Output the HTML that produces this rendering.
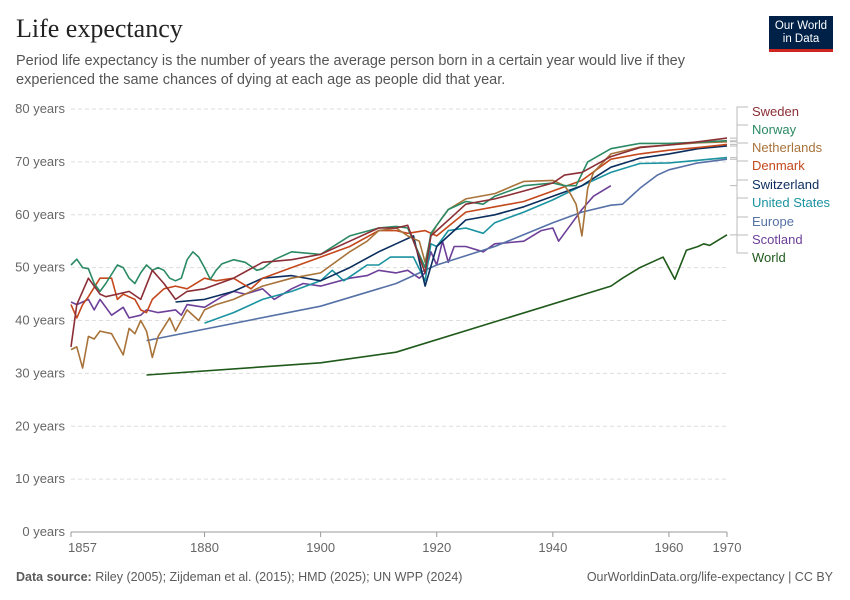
<!DOCTYPE html>
<html><head><meta charset="utf-8"><style>
body{margin:0;background:#fff;font-family:"Liberation Sans",sans-serif;}
#wrap{position:relative;width:850px;height:600px;overflow:hidden}
h1{position:absolute;left:16px;top:14px;margin:0;font-family:"Liberation Serif",serif;font-weight:400;font-size:26px;color:#222}
.sub{position:absolute;left:16px;top:52px;width:720px;font-size:14.5px;line-height:19px;color:#555}
.logo{position:absolute;left:769px;top:16px;width:64px;height:36px;background:#002147;border-bottom:3px solid #ce261e;color:#fff;font-size:11.5px;line-height:13px;text-align:center;padding-top:4px;box-sizing:border-box}
.foot{position:absolute;top:570px;font-size:12.5px;color:#5b5b5b}
</style></head><body>
<div id="wrap">
<h1>Life expectancy</h1>
<div class="sub">Period life expectancy is the number of years the average person born in a certain year would live if they experienced the same chances of dying at each age as people did that year.</div>
<div class="logo">Our World<br>in Data</div>
<svg id="chart" width="850" height="600" style="position:absolute;left:0;top:0"></svg>
<div class="foot" style="left:16px"><b>Data source:</b> Riley (2005); Zijdeman et al. (2015); HMD (2025); UN WPP (2024)</div>
<div class="foot" style="right:17px">OurWorldinData.org/life-expectancy | CC BY</div>
</div>
<script>
const yTicks=[0,10,20,30,40,50,60,70,80];
const xTicks=[1857,1880,1900,1920,1940,1960,1970];
const seriesNames=["Sweden","Norway","Netherlands","Denmark","Switzerland","United States","Europe","Scotland","World"];
const seriesColors=["#8b2e36","#2b8a64","#a8733a","#c4481c","#0b2e5e","#1a93a0","#5671a6","#6c3f98","#1f5a1a"];
const labelY=[111,129,147,165,184,202,221,239,257];
const swedenYears=[1857,1858,1860,1862,1863,1865,1867,1869,1871,1873,1875,1877,1880,1885,1890,1895,1900,1905,1910,1913,1915,1918,1919,1920,1923,1925,1930,1935,1940,1942,1945,1950,1955,1960,1965,1970];
const swedenVals=[35,43,48,45,44.5,45,45.5,44,49.5,47,44,45.5,46,48,51,51.5,52.5,55,57.5,57.5,58,49,56,57,60,62,63,64.5,66,67.5,68,71,72.7,73.2,73.8,74.5];
const norwayYears=[1857,1858,1859,1860,1861,1862,1863,1865,1866,1867,1868,1869,1870,1871,1872,1873,1874,1875,1876,1877,1878,1879,1880,1881,1882,1883,1885,1887,1889,1890,1892,1895,1900,1905,1910,1913,1915,1918,1919,1920,1922,1925,1928,1930,1935,1940,1942,1944,1946,1950,1955,1960,1965,1970];
const norwayVals=[50.5,51.6,50,49.8,47,45.5,47,50.5,50,48,47,49,50.5,49.5,50,49.5,48,47.5,48,51.5,53,52,50,47.8,49.5,50.7,51.5,51,49.5,49.8,51.5,53,52.5,56,57.5,57.8,57.5,50,56.5,58,61,62.5,62,63.5,65.5,66,65.5,65.5,70,72.5,73.5,73.5,73.7,74];
const netherlandsYears=[1857,1858,1859,1860,1861,1862,1864,1866,1867,1868,1869,1870,1871,1872,1874,1875,1877,1879,1880,1882,1885,1887,1890,1895,1900,1905,1908,1910,1913,1915,1917,1918,1919,1920,1922,1925,1930,1935,1940,1942,1943,1944,1945,1946,1947,1950,1955,1960,1965,1970];
const netherlandsVals=[34.5,35,31,37,36.5,38,37.5,33.5,38.5,37.5,40,38,33,37,40.5,38,42,40,42,43,44,45,46.5,48,49,53,55,57,57.5,56,55,51,56,58,61,63,64,66.3,66.5,65.5,64,62,56,65,68,71.5,72.8,73.2,73.6,73.8];
const denmarkYears=[1857,1858,1859,1860,1862,1864,1865,1866,1868,1869,1870,1871,1873,1875,1877,1880,1882,1885,1888,1890,1895,1900,1905,1910,1913,1915,1918,1920,1925,1930,1935,1940,1945,1950,1955,1960,1965,1970];
const denmarkVals=[43,40.5,43,44.5,48,48,44,45,44,42,41.5,44,46,46.5,46,48,47.5,48,46,48,50,52,54,57,57,56.5,57,56,60.5,61.5,62.5,64.5,66.5,70.5,71.5,72.2,72.7,73.3];
const switzerlandYears=[1875,1880,1885,1890,1895,1900,1905,1910,1913,1916,1918,1920,1925,1930,1935,1940,1945,1950,1955,1960,1965,1970];
const switzerlandVals=[43.5,44,45.5,48,48.5,47.5,50,53,54.5,56,46.5,54,59,60,61.5,63.5,65.5,69,70.7,71.5,72.5,73];
const usYears=[1880,1885,1890,1895,1900,1902,1904,1906,1908,1910,1912,1913,1916,1918,1919,1920,1922,1925,1928,1930,1935,1940,1945,1950,1955,1960,1965,1970];
const usVals=[39.5,41.5,44,45.5,47.5,49.5,47.5,49,50.5,50.5,52,52,52,47.5,54.5,54,57,57.5,56.5,58.5,60.5,62.8,65.5,68,69.7,69.8,70.3,70.8];
const europeYears=[1870,1900,1913,1920,1930,1940,1945,1950,1952,1955,1958,1960,1965,1970];
const europeVals=[36.2,42.7,47,50.5,54,58.5,60.5,61.8,62,65,67.5,68.5,69.8,70.5];
const scotlandYears=[1857,1858,1860,1861,1862,1864,1866,1867,1869,1870,1872,1875,1876,1877,1880,1883,1885,1887,1890,1892,1895,1897,1900,1905,1908,1910,1913,1915,1917,1918,1919,1920,1921,1922,1923,1925,1928,1930,1935,1938,1940,1941,1943,1945,1947,1950];
const scotlandVals=[43.5,43,44,42,44,41,42.5,40.5,41,42,41.5,42,41,43,42.5,44.5,45.5,45,46,44,46,47,46.5,48,48.5,49.5,49,49.5,48,49,53,50.5,55,51,54,54,53,54.5,55,57,57.5,55,58,61,63.5,65.5];
const worldYears=[1870,1900,1913,1950,1952,1955,1958,1959,1961,1963,1965,1966,1967,1970];
const worldVals=[29.7,32,34,46.5,48,50,51.5,52,47.8,53.3,54,54.5,54.2,56.2];
const allYears=[swedenYears,norwayYears,netherlandsYears,denmarkYears,switzerlandYears,usYears,europeYears,scotlandYears,worldYears];
const allVals=[swedenVals,norwayVals,netherlandsVals,denmarkVals,switzerlandVals,usVals,europeVals,scotlandVals,worldVals];

const NS="http://www.w3.org/2000/svg";
const svg=document.getElementById('chart');
const X0=71,X1=727,Y0=532,Y1=109;
const xs=y=>X0+(y-1857)/(1970-1857)*(X1-X0);
const ys=v=>Y0-v/80*(Y0-Y1);
function mk(t,a){const e=document.createElementNS(NS,t);for(const k in a)e.setAttribute(k,a[k]);svg.appendChild(e);return e;}
yTicks.forEach(t=>{
  const l=mk('line',{x1:X0,x2:X1,y1:ys(t),y2:ys(t),stroke:t===0?'#999':'#ddd','stroke-dasharray':t===0?'':'4,3'});
  
  
  const tx=mk('text',{x:65,y:ys(t)+4,'font-size':13,fill:'#666','text-anchor':'end'});
  tx.textContent=t+' years';
  
  
});
xTicks.forEach(t=>{
  mk('line',{x1:xs(t),x2:xs(t),y1:Y0,y2:Y0+5,stroke:'#999'});
  const tx=mk('text',{x:xs(t),y:Y0+20,'font-size':13,fill:'#666','text-anchor':t===1857?'start':'middle'});
  if(t===1857)tx.setAttribute('x',X0-3);
  tx.textContent=t;
  
  
});
for(let i=allYears.length-1;i>=0;i--){
  const yr=allYears[i],v=allVals[i];
  const d=yr.map((y,j)=>(j?'L':'M')+xs(y).toFixed(1)+','+ys(v[j]).toFixed(1)).join('');
  const p=mk('path',{d:d,fill:'none',stroke:seriesColors[i],'stroke-width':1.6,'stroke-linejoin':'round'});
  
  
  const ly=ys(v[v.length-1]);
  const ex=xs(yr[yr.length-1]);
  mk('path',{d:`M${Math.max(ex,730)},${ly}H737V${labelY[i]-4}H748`,fill:'none',stroke:'#bbb','stroke-width':1});
  const tx=mk('text',{x:752,y:labelY[i]+5,'font-size':13,fill:seriesColors[i]});
  tx.textContent=seriesNames[i];
  
  
}
</script>
</body></html>
